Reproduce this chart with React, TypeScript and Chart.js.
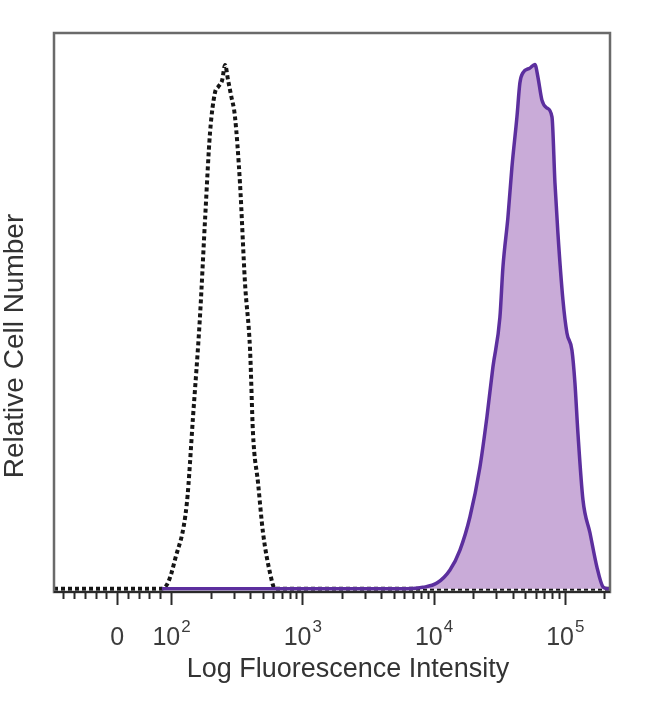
import React, { useEffect, useRef } from "react";
import { Chart, registerables } from "chart.js";

Chart.register(...registerables);

// ---- data (fluorescence intensity, relative count %) ----
const isotypeIntensity = [-117, -60, 0, 40, 80, 94, 107, 132, 147, 166, 182, 198, 216, 228, 245, 258, 272, 286, 307, 335, 366, 400, 421, 460, 502, 568, 620, 1000, 10000, 221000];
const isotypeCount = [0, 0, 0, 0, 0, 1.1, 5.5, 16.4, 32.8, 51.8, 70.9, 86.9, 94.6, 95.7, 97, 99.9, 97, 94.2, 90, 77.4, 58.3, 45.5, 29.7, 20.2, 10.7, 3.0, 0, 0, 0, 0];

const stainedIntensity = [83, 1000, 5546, 8299, 10614, 13335, 15890, 18927, 22549, 25511, 28340, 32040, 33792, 36885, 39548, 43190, 45497, 47944, 54230, 59189, 62409, 66944, 73114, 79845, 84143, 88590, 96787, 103802, 113355, 119437, 125912, 137489, 155470, 175541, 195075, 212680, 221000];
const stainedCount = [0, 0, 0, 0.3, 1.1, 3.6, 7.4, 13.7, 23.2, 32.8, 42.3, 51.8, 61.4, 70.9, 80.4, 90, 96.5, 98.4, 99.3, 100, 97.6, 93.2, 91.7, 90, 77.4, 67.9, 55.1, 48.8, 45.5, 39.3, 29.7, 17, 10.7, 4.2, 0.4, 0, 0];

const majorTickValues = [0, 100, 1000, 10000, 100000];
const majorTickBase = ["0", "10", "10", "10", "10"];
const majorTickExponent = ["", "2", "3", "4", "5"];
const minorTickValues = [-100, -80, -60, -40, -20, 20, 40, 60, 80,
  200, 300, 400, 500, 600, 700, 800, 900,
  2000, 3000, 4000, 5000, 6000, 7000, 8000, 9000,
  20000, 30000, 40000, 50000, 60000, 70000, 80000, 90000,
  200000];

const xMinIntensity = -117;
const xMaxIntensity = 221000;
const yMin = -0.6;
const yMax = 106;

const xTitle = "Log Fluorescence Intensity";
const yTitle = "Relative Cell Number";

// biexponential-like display transform: linear below 100, log10 above
function toDisplay(v: number): number {
  return v >= 100 ? Math.log10(v) : 2 - ((100 - v) / 100) * 0.411;
}

const FONT = '"Liberation Sans", Arial, sans-serif';

const decorPlugin = {
  id: "decor",
  afterDraw(chart: any) {
    const ctx = chart.ctx;
    const area = chart.chartArea;
    const xs = chart.scales.x;
    ctx.save();
    // frame
    ctx.strokeStyle = "#6a6a6a";
    ctx.lineWidth = 2.5;
    ctx.strokeRect(area.left, area.top, area.right - area.left, area.bottom - area.top);
    // bottom axis line
    ctx.strokeStyle = "#2a2a2a";
    ctx.lineWidth = 2;
    ctx.beginPath();
    ctx.moveTo(area.left, area.bottom);
    ctx.lineTo(area.right, area.bottom);
    ctx.stroke();
    // ticks
    ctx.lineWidth = 2;
    ctx.strokeStyle = "#2a2a2a";
    minorTickValues.forEach((v) => {
      const px = Math.round(xs.getPixelForValue(toDisplay(v))) + 0.5;
      ctx.beginPath();
      ctx.moveTo(px, area.bottom);
      ctx.lineTo(px, area.bottom + 7);
      ctx.stroke();
    });
    majorTickValues.forEach((v) => {
      const px = Math.round(xs.getPixelForValue(toDisplay(v))) + 0.5;
      ctx.beginPath();
      ctx.moveTo(px, area.bottom);
      ctx.lineTo(px, area.bottom + 13);
      ctx.stroke();
    });
    // tick labels
    ctx.fillStyle = "#3c3c3c";
    ctx.textBaseline = "alphabetic";
    ctx.textAlign = "left";
    majorTickValues.forEach((v, i) => {
      const px = xs.getPixelForValue(toDisplay(v));
      ctx.font = `25px ${FONT}`;
      const wb = ctx.measureText(majorTickBase[i]).width;
      ctx.font = `17px ${FONT}`;
      const we = majorTickExponent[i] ? ctx.measureText(majorTickExponent[i]).width : 0;
      const start = px - (wb + we) / 2;
      ctx.font = `25px ${FONT}`;
      ctx.fillText(majorTickBase[i], start, area.bottom + 53);
      if (majorTickExponent[i]) {
        ctx.font = `17px ${FONT}`;
        ctx.fillText(majorTickExponent[i], start + wb + 1, area.bottom + 40);
      }
    });
    // x title
    ctx.fillStyle = "#333333";
    ctx.font = `27px ${FONT}`;
    ctx.textAlign = "center";
    ctx.fillText(xTitle, 348, area.bottom + 85);
    // y title
    ctx.save();
    ctx.translate(15, 346);
    ctx.rotate(-Math.PI / 2);
    ctx.textBaseline = "middle";
    ctx.font = `28px ${FONT}`;
    ctx.fillText(yTitle, 0, 0);
    ctx.restore();
    ctx.restore();
  },
};

export default function App() {
  const canvasRef = useRef<HTMLCanvasElement | null>(null);

  useEffect(() => {
    const canvas = canvasRef.current;
    if (!canvas) return;
    const stained = stainedIntensity.map((v, i) => ({ x: toDisplay(v), y: stainedCount[i] }));
    const isotype = isotypeIntensity.map((v, i) => ({ x: toDisplay(v), y: isotypeCount[i] }));
    const chart = new Chart(canvas, {
      type: "line",
      data: {
        datasets: [
          {
            label: "Stained",
            data: stained,
            borderColor: "#5c2f9e",
            backgroundColor: "#c9abd8",
            borderWidth: 3.5,
            fill: "origin",
            pointRadius: 0,
            cubicInterpolationMode: "monotone",
            order: 0,
          },
          {
            label: "Isotype",
            data: isotype,
            borderColor: "#151515",
            borderWidth: 4,
            borderDash: [4, 3],
            fill: false,
            pointRadius: 0,
            cubicInterpolationMode: "monotone",
            order: 1,
          },
        ],
      },
      options: {
        animation: false,
        responsive: false,
        maintainAspectRatio: false,
        layout: { padding: { left: 54, right: 40, top: 33, bottom: 112 } },
        plugins: { legend: { display: false }, tooltip: { enabled: false }, title: { display: false } },
        scales: {
          x: { type: "linear", display: false, min: toDisplay(xMinIntensity), max: toDisplay(xMaxIntensity) },
          y: { type: "linear", display: false, min: yMin, max: yMax },
        },
      },
      plugins: [decorPlugin],
    });
    return () => chart.destroy();
  }, []);

  return (
    <div style={{ position: "fixed", left: 0, top: 0, width: 650, height: 704, background: "#ffffff" }}>
      <canvas ref={canvasRef} width={650} height={704} style={{ display: "block", width: 650, height: 704 }} />
    </div>
  );
}
